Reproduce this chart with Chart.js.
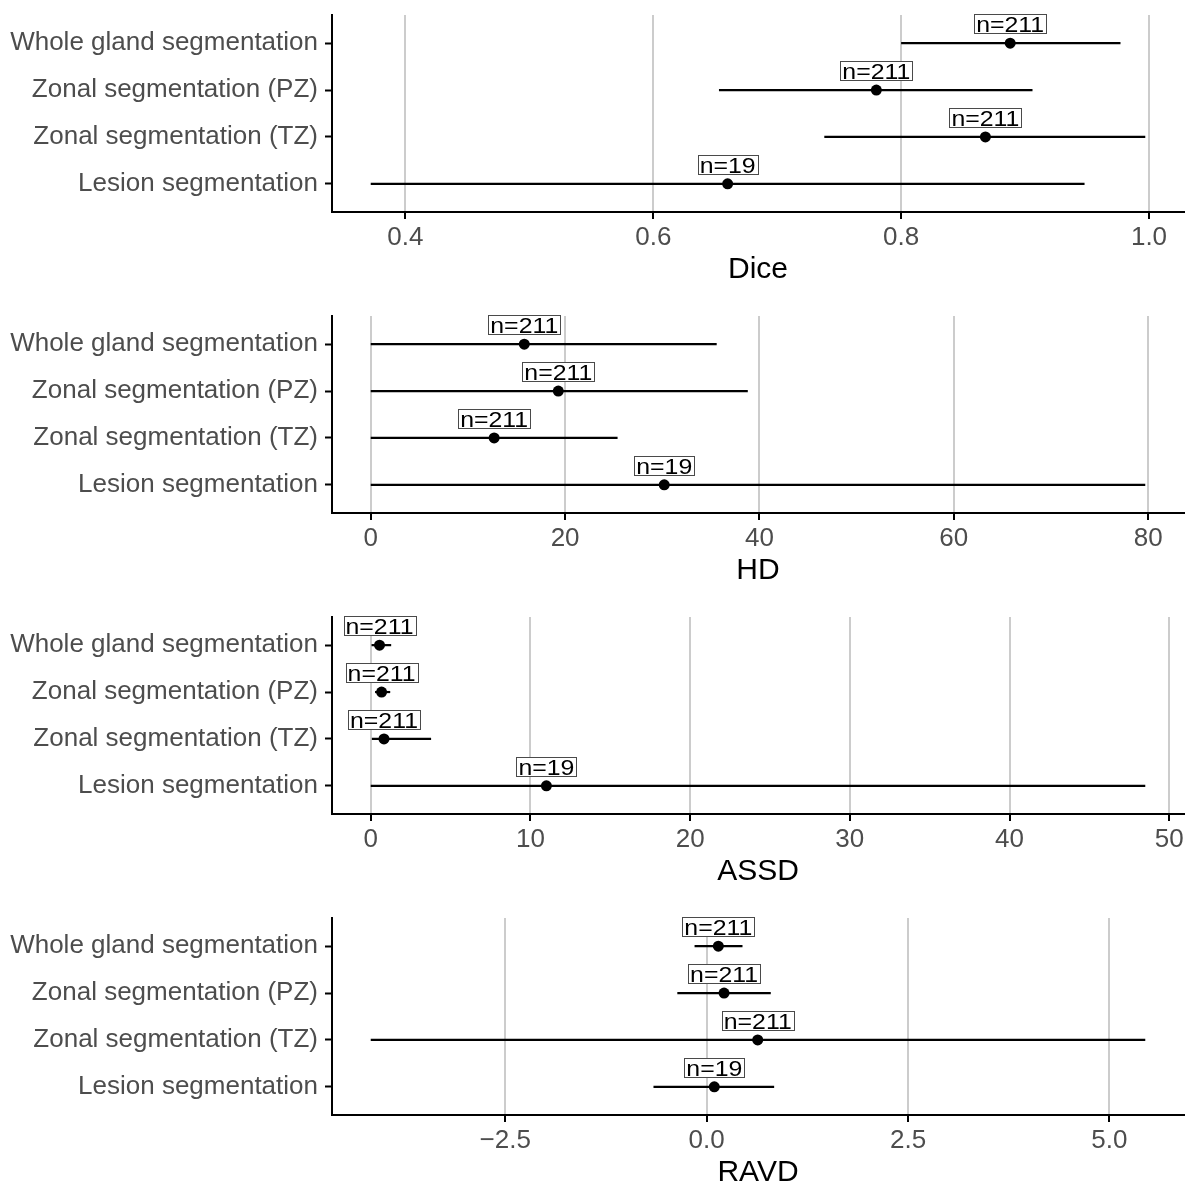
<!DOCTYPE html>
<html>
<head>
<meta charset="utf-8">
<script src="https://cdn.jsdelivr.net/npm/chart.js@4.4.1/dist/chart.umd.min.js"></script>
<style>
  html, body { margin: 0; padding: 0; background: #ffffff; overflow: hidden; }
  #wrap { position: relative; width: 1191px; height: 1194px; }
  canvas { position: absolute; left: 0; }
</style>
</head>
<body>
<div id="wrap">
  <canvas id="c0" width="1191" height="291" style="top:0px"></canvas>
  <canvas id="c1" width="1191" height="291" style="top:301px"></canvas>
  <canvas id="c2" width="1191" height="291" style="top:602px"></canvas>
  <canvas id="c3" width="1191" height="291" style="top:903px"></canvas>
</div>
<script>
// ---------------- data ----------------
const categories = ["Whole gland segmentation", "Zonal segmentation (PZ)", "Zonal segmentation (TZ)", "Lesion segmentation"];
const nCounts = [211, 211, 211, 19];

const diceMid  = [0.888, 0.780, 0.868, 0.660];
const diceLow  = [0.800, 0.653, 0.738, 0.372];
const diceHigh = [0.977, 0.906, 0.997, 0.948];
const diceTicks = [0.4, 0.6, 0.8, 1.0];
const diceTickLabels = ["0.4", "0.6", "0.8", "1.0"];

const hdMid  = [15.8, 19.3, 12.7, 30.2];
const hdLow  = [0, 0, 0, 0];
const hdHigh = [35.6, 38.8, 25.4, 79.7];
const hdTicks = [0, 20, 40, 60, 80];
const hdTickLabels = ["0", "20", "40", "60", "80"];

const assdMid  = [0.55, 0.68, 0.83, 11.0];
const assdLow  = [0.05, 0.27, 0.07, 0];
const assdHigh = [1.28, 1.22, 3.78, 48.5];
const assdTicks = [0, 10, 20, 30, 40, 50];
const assdTickLabels = ["0", "10", "20", "30", "40", "50"];

const ravdMid  = [0.145, 0.216, 0.634, 0.095];
const ravdLow  = [-0.150, -0.364, -4.17, -0.660];
const ravdHigh = [0.445, 0.796, 5.445, 0.838];
const ravdTicks = [-2.5, 0, 2.5, 5.0];
const ravdTickLabels = ["\u22122.5", "0.0", "2.5", "5.0"];

// ---------------- styles ----------------
const FONT = "'Liberation Sans', Arial, Helvetica, sans-serif";
const GREY_TEXT = "#4d4d4d";
const GRID = "#cccccc";
const LABEL_NUDGE = 0.42;
const CANVAS_H = 291;
const PLOT_TOP = 15, PLOT_BOTTOM = 212, PLOT_LEFT = 332, PLOT_RIGHT = 1184;

const labelPlugin = {
  id: 'nlabels',
  afterDatasetsDraw(chart) {
    const cfg = chart.options.plugins.nlabels;
    const xs = chart.scales.x, ys = chart.scales.y;
    const ctx = chart.ctx;
    ctx.save();
    const fs = 22, sx = 1.13;
    ctx.font = fs + "px " + FONT;
    cfg.mids.forEach((m, i) => {
      const txt = "n=" + cfg.counts[i];
      const cx = xs.getPixelForValue(m);
      const cy = ys.getPixelForValue(i + 1 - LABEL_NUDGE);
      const tw = ctx.measureText(txt).width * sx;
      const w = Math.round(tw + 4);
      const h = 19;
      const x0 = Math.round(cx - w / 2) + 0.5;
      const y0 = Math.round(cy - h / 2) + 0.5;
      ctx.fillStyle = "#ffffff";
      ctx.fillRect(x0, y0, w, h);
      ctx.strokeStyle = "#4a4a4a";
      ctx.lineWidth = 1;
      ctx.strokeRect(x0, y0, w, h);
      ctx.fillStyle = "#000000";
      ctx.textAlign = "center";
      ctx.textBaseline = "alphabetic";
      ctx.save();
      ctx.translate(cx, cy + fs * 0.716 / 2 + 0.5);
      ctx.scale(sx, 1);
      ctx.fillText(txt, 0, 0);
      ctx.restore();
    });
    ctx.restore();
  }
};

function makePanel(id, title, mids, lows, highs, ticks, tickLabels) {
  const lo = Math.min(...lows, ...mids);
  const hi = Math.max(...highs, ...mids);
  const span = hi - lo;
  const xmin = lo - 0.05 * span, xmax = hi + 0.05 * span;

  const datasets = [];
  categories.forEach((c, i) => {
    datasets.push({
      type: 'line',
      data: [{x: lows[i], y: i + 1}, {x: highs[i], y: i + 1}],
      borderColor: '#000000',
      borderWidth: 2.2,
      pointRadius: 0,
      fill: false,
      tension: 0
    });
  });
  datasets.push({
    type: 'scatter',
    data: mids.map((m, i) => ({x: m, y: i + 1})),
    backgroundColor: '#000000',
    borderColor: '#000000',
    borderWidth: 0,
    pointRadius: 5.5,
    pointHoverRadius: 5.5
  });

  new Chart(document.getElementById(id), {
    type: 'scatter',
    data: { datasets },
    plugins: [labelPlugin],
    options: {
      responsive: false,
      animation: false,
      events: [],
      layout: { autoPadding: false, padding: { top: PLOT_TOP, right: 1191 - PLOT_RIGHT, left: 0, bottom: 0 } },
      plugins: {
        legend: { display: false },
        tooltip: { enabled: false },
        nlabels: { mids: mids, counts: nCounts }
      },
      scales: {
        x: {
          type: 'linear',
          min: xmin,
          max: xmax,
          afterBuildTicks: (s) => { s.ticks = ticks.map(v => ({value: v})); },
          afterFit: (s) => {
            s.height = CANVAS_H - PLOT_BOTTOM;
            s.paddingLeft = 0; s.paddingRight = 0;
          },
          ticks: {
            callback: (v, idx) => tickLabels[idx],
            color: GREY_TEXT,
            font: { family: FONT, size: 26 },
            padding: 3,
            maxRotation: 0,
            autoSkip: false
          },
          grid: {
            color: GRID,
            lineWidth: 2,
            drawTicks: true,
            tickLength: 7,
            tickColor: '#000000',
            tickWidth: 2
          },
          border: { display: true, color: '#000000', width: 2 },
          title: {
            display: true,
            text: title,
            color: '#000000',
            font: { family: FONT, size: 30, lineHeight: 1.2 },
            padding: { top: 0, bottom: 3 }
          }
        },
        y: {
          type: 'linear',
          min: 0.4,
          max: 4.6,
          reverse: true,
          afterBuildTicks: (s) => { s.ticks = categories.map((c, i) => ({value: i + 1})); },
          afterFit: (s) => {
            s.width = PLOT_LEFT;
            s.paddingTop = 0; s.paddingBottom = 0;
          },
          ticks: {
            callback: (v) => categories[Math.round(v) - 1],
            color: GREY_TEXT,
            font: { family: FONT, size: 26 },
            padding: 7,
            autoSkip: false
          },
          grid: {
            drawOnChartArea: false,
            drawTicks: true,
            tickLength: 7,
            tickColor: '#000000',
            tickWidth: 2
          },
          border: { display: true, color: '#000000', width: 2 }
        }
      }
    }
  });
}

makePanel('c0', 'Dice', diceMid, diceLow, diceHigh, diceTicks, diceTickLabels);
makePanel('c1', 'HD', hdMid, hdLow, hdHigh, hdTicks, hdTickLabels);
makePanel('c2', 'ASSD', assdMid, assdLow, assdHigh, assdTicks, assdTickLabels);
makePanel('c3', 'RAVD', ravdMid, ravdLow, ravdHigh, ravdTicks, ravdTickLabels);
</script>
</body>
</html>
